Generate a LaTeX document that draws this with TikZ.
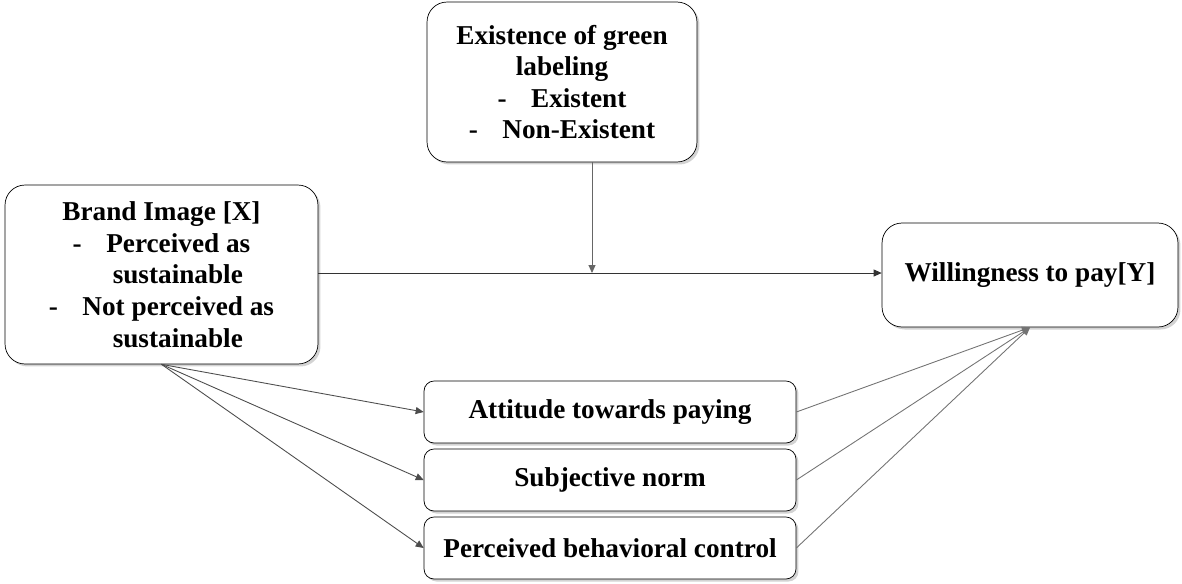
\documentclass[tikz,border=0pt]{standalone}
\usepackage{fontspec}
\setmainfont{Liberation Serif}
\usepackage{tikz}
\usetikzlibrary{arrows.meta, shadows}

\tikzset{
	bigbox/.style={draw, rounded corners=0.4cm, fill=white, align=center,
		font=\fontsize{15.5}{18}\selectfont\bfseries,
		drop shadow={opacity=0.35, shadow xshift=0.05cm, shadow yshift=-0.05cm}},
	smallbox/.style={bigbox, rounded corners=0.2cm, minimum width=7.44cm, minimum height=1.24cm},
	arr/.style={-{Triangle[length=1.6mm, width=1.4mm]}, line width=0.5pt},
}

\begin{document}
\begin{tikzpicture}[x=0.02cm, y=-0.02cm]

\useasboundingbox (0,0) rectangle (1182,583);

% ------------------------------------------------------

\node[bigbox, minimum width=5.4cm, minimum height=3.2cm] (label) at (562,82)
	{Existence of green\\ labeling\\ -\hspace{0.9em}Existent\\ -\hspace{0.9em}Non-Existent};

\node[bigbox, minimum width=6.26cm, minimum height=3.58cm] (brand) at (161.5,274.5)
	{Brand Image [X]\\ -\hspace{0.9em}Perceived as\\ \hspace{1.2em}sustainable\\ -\hspace{0.9em}Not perceived as\\ \hspace{1.2em}sustainable};

\node[bigbox, minimum width=5.92cm, minimum height=2.08cm] (wtp) at (1030,275)
	{Willingness to pay[Y]};

% ------------------------------------------------------

\node[smallbox] (att) at (610,412) {Attitude towards paying};

\node[smallbox] (norm) at (610,480) {Subjective norm};

\node[smallbox] (pbc) at (610,548) {Perceived behavioral control};

% ------------------------------------------------------

\coordinate (mid) at (592,273);

\draw[arr, black!80] (brand.east |- mid) -- (wtp.west |- mid);

\draw[arr, black!60] (label.south -| mid) -- (mid);

\foreach \m in {att, norm, pbc} {
	\draw[arr, black!70] (brand.south) -- (\m.west);
	\draw[arr, black!55] (\m.east) -- (wtp.south);
}

\end{tikzpicture}
\end{document}
